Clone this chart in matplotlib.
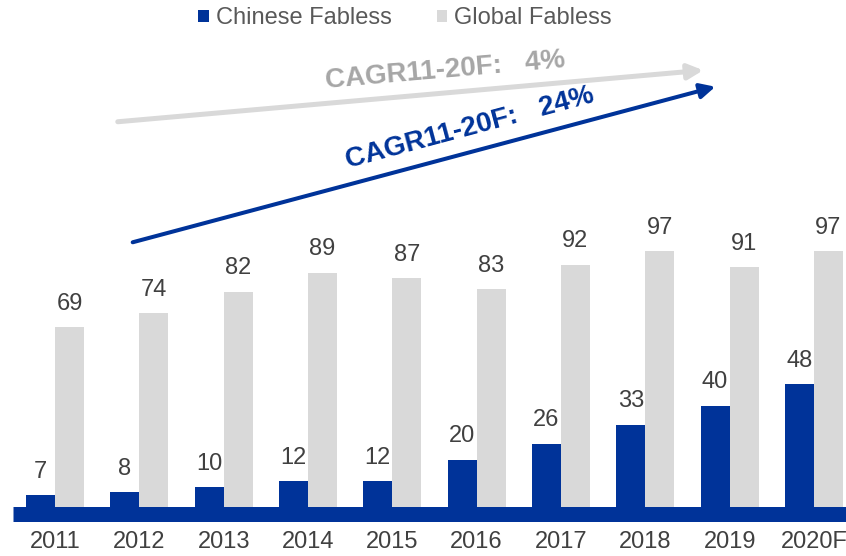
import matplotlib.pyplot as plt
import numpy as np

years = ['2011', '2012', '2013', '2014', '2015', '2016', '2017', '2018', '2019', '2020F']
chinese = [7, 8, 10, 12, 12, 20, 26, 33, 40, 48]
glob = [69, 74, 82, 89, 87, 83, 92, 97, 91, 97]

blue = '#003399'
grey = '#D9D9D9'
txt = '#404040'

plt.rcParams['font.family'] = ['Liberation Sans', 'DejaVu Sans']

W, H = 846, 556
fig = plt.figure(figsize=(W / 100, H / 100), dpi=100)
ax = fig.add_axes([13 / W, (H - 514) / H, 833 / W, 514 / H])

x = np.arange(len(years))
bw = 0.344
ax.bar(x - bw / 2, chinese, bw, color=blue, label='Chinese Fabless')
ax.bar(x + bw / 2, glob, bw, color=grey, label='Global Fabless')

for i in range(len(years)):
    ax.annotate(str(chinese[i]), (x[i] - bw / 2, chinese[i]), xytext=(0, 12.5),
                textcoords='offset points', ha='center', va='baseline', fontsize=17, color=txt)
    ax.annotate(str(glob[i]), (x[i] + bw / 2, glob[i]), xytext=(0, 12.5),
                textcoords='offset points', ha='center', va='baseline', fontsize=17, color=txt)

ax.axhline(0, color=blue, lw=10.8, clip_on=False, zorder=3, solid_capstyle='butt')
ax.set_xlim(-0.498, 9.38)
ax.set_ylim(0, 189.7)
ax.set_xticks(x)
ax.set_xticklabels(years, fontsize=17, color=txt)
ax.tick_params(axis='x', length=0, pad=12)
ax.set_yticks([])
for s in ax.spines.values():
    s.set_visible(False)

leg = fig.legend(loc='upper center', bbox_to_anchor=(405 / W, 1.025), ncol=2, frameon=False,
                 fontsize=17, handlelength=0.45, handleheight=0.45, handletextpad=0.3,
                 columnspacing=1.9, labelcolor='#595959')

# CAGR arrows (figure pixel coords, origin bottom-left)
ax.annotate('', xy=(706, H - 70), xytext=(115, H - 122), xycoords='figure pixels',
            textcoords='figure pixels',
            arrowprops=dict(arrowstyle='-|>,head_length=0.9,head_width=0.45', color=grey, lw=3.6))
ax.annotate('', xy=(718, H - 86), xytext=(130, H - 243), xycoords='figure pixels',
            textcoords='figure pixels',
            arrowprops=dict(arrowstyle='-|>,head_length=0.9,head_width=0.45', color=blue, lw=2.9))

fig.text(445 / W, (H - 71) / H, 'CAGR11-20F:   4%', rotation=5, ha='center', va='center',
         fontsize=20, fontweight='bold', color='#A6A6A6', rotation_mode='anchor')
fig.text(470 / W, (H - 128) / H, 'CAGR11-20F:   24%', rotation=15, ha='center', va='center',
         fontsize=20, fontweight='bold', color=blue, rotation_mode='anchor')

fig.savefig('out.png', dpi=100)
